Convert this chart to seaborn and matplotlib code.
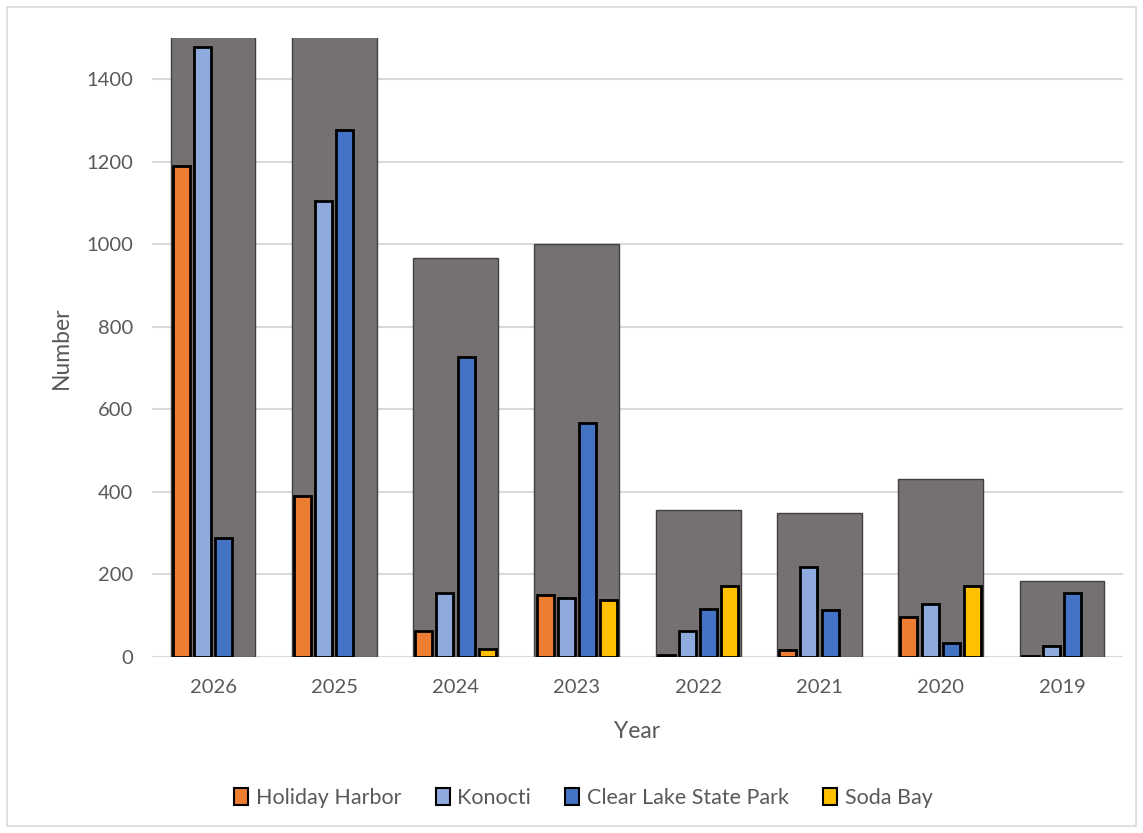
import numpy as np
import pandas as pd
import matplotlib
matplotlib.use("Agg")
import matplotlib.pyplot as plt
import seaborn as sns
from matplotlib.patches import Patch, Rectangle

# ---- data ----
years = ["2026", "2025", "2024", "2023", "2022", "2021", "2020", "2019"]
locations = ["Holiday Harbor", "Konocti", "Clear Lake State Park", "Soda Bay"]
holiday_harbor = [1189, 391, 63, 150, 6, 16, 98, 2]
konocti = [1477, 1104, 155, 144, 63, 219, 129, 26]
clear_lake = [289, 1278, 727, 568, 116, 113, 33, 154]
soda_bay = [np.nan, np.nan, 19, 138, 172, np.nan, 172, np.nan]
totals = [2955, 2773, 966, 1000, 357, 348, 432, 183]
y_ticks = [0, 200, 400, 600, 800, 1000, 1200, 1400]
loc_colors = ["#ED7D31", "#8FAADC", "#4472C4", "#FFC000"]
total_color = "#767171"

rows = []
for loc, vals in zip(locations, [holiday_harbor, konocti, clear_lake, soda_bay]):
    for yr, v in zip(years, vals):
        if not np.isnan(v):
            rows.append({"Year": yr, "Location": loc, "Number": v})
df = pd.DataFrame(rows)
tot_df = pd.DataFrame({"Year": years, "Total": totals})

sns.set_style("white")
plt.rcParams["font.family"] = ["Lato", "DejaVu Sans"]

fig = plt.figure(figsize=(11.43, 8.33), dpi=100)
ax = fig.add_axes([0.1333, 0.2113, 0.8489, 0.7431])

# light frame around the whole chart
fig.patches.append(Rectangle((7 / 1143, 7 / 833), 1 - 14 / 1143, 1 - 14 / 833,
                             transform=fig.transFigure, fill=False,
                             edgecolor="#D9D9D9", linewidth=1.2))

sns.barplot(data=tot_df, x="Year", y="Total", order=years, color=total_color,
            saturation=1, width=0.70, edgecolor="#404040", linewidth=1.0,
            errorbar=None, ax=ax, zorder=2)
sns.barplot(data=df, x="Year", y="Number", hue="Location", order=years,
            hue_order=locations, palette=loc_colors, saturation=1,
            width=0.70, gap=0.2, edgecolor="black", linewidth=2.0,
            errorbar=None, legend=False, ax=ax, zorder=3)

ax.set_ylim(0, 1500)
ax.set_xlim(-0.5, len(years) - 0.5)
ax.set_yticks(y_ticks)
ax.set_axisbelow(True)
ax.yaxis.grid(True, color="#D9D9D9", linewidth=1.5)
ax.xaxis.grid(False)
for s in ax.spines.values():
    s.set_visible(False)
ax.tick_params(axis="both", length=0, labelsize=14.5, labelcolor="#595959")
ax.tick_params(axis="y", pad=14)
ax.tick_params(axis="x", pad=16)
ax.set_xlabel("Year", fontsize=16.5, color="#595959", labelpad=18)
ax.set_ylabel("Number", fontsize=16.5, color="#595959", labelpad=10)

handles = [Patch(facecolor=c, edgecolor="black", linewidth=1.5) for c in loc_colors]
fig.legend(handles, locations, loc="center", bbox_to_anchor=(0.5105, 0.042),
           ncol=4, frameon=False, fontsize=15.5, labelcolor="#595959",
           handlelength=0.65, handleheight=0.85, handletextpad=0.35,
           columnspacing=1.6)

fig.savefig("out.png", dpi=100)
